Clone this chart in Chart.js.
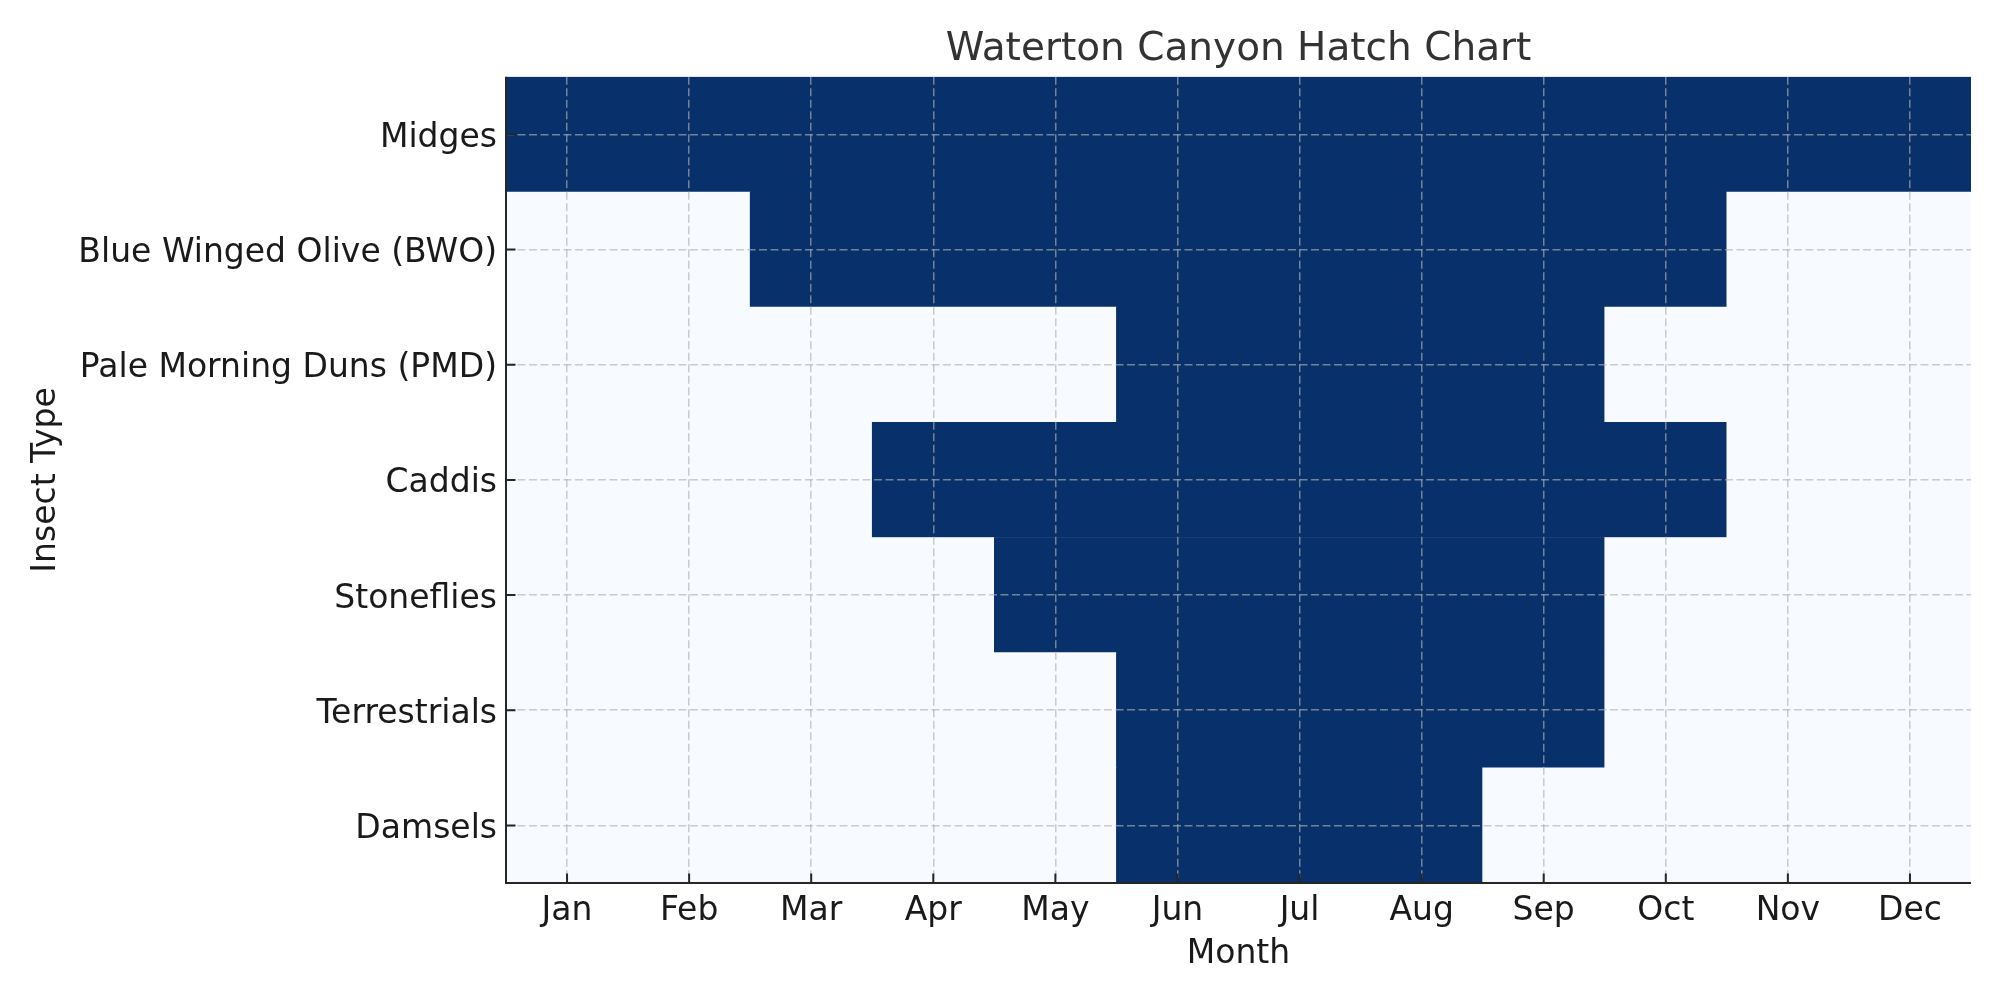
<!DOCTYPE html>
<html>
<head>
<meta charset="utf-8">
<script src="https://cdn.jsdelivr.net/npm/chart.js@4/dist/chart.umd.min.js"></script>
<style>
  html, body { margin: 0; padding: 0; background: #ffffff; }
  #wrap { width: 2000px; height: 1000px; }
</style>
</head>
<body>
<div id="wrap"><canvas id="c" width="2000" height="1000"></canvas></div>
<script>
const months = ['Jan','Feb','Mar','Apr','May','Jun','Jul','Aug','Sep','Oct','Nov','Dec'];
const insects = ['Midges','Blue Winged Olive (BWO)','Pale Morning Duns (PMD)','Caddis','Stoneflies','Terrestrials','Damsels'];
const midges       = [1,1,1,1,1,1,1,1,1,1,1,1];
const bwo          = [0,0,1,1,1,1,1,1,1,1,0,0];
const pmd          = [0,0,0,0,0,1,1,1,1,0,0,0];
const caddis       = [0,0,0,1,1,1,1,1,1,1,0,0];
const stoneflies   = [0,0,0,0,1,1,1,1,1,0,0,0];
const terrestrials = [0,0,0,0,0,1,1,1,1,0,0,0];
const damsels      = [0,0,0,0,0,1,1,1,0,0,0,0];
const hatchRows = [midges, bwo, pmd, caddis, stoneflies, terrestrials, damsels];

const DARK = '#08306b', LIGHT = '#f7fbff';
const FONT = 'DejaVu Sans';

// Build runs of equal values per row (cells rendered as floating bars)
const cells = [];
hatchRows.forEach((row, r) => {
  let s = 0;
  for (let m = 1; m <= row.length; m++) {
    if (m === row.length || row[m] !== row[s]) {
      cells.push({ x: [s - 0.5, m - 1 + 0.5], y: insects[r], v: row[s] });
      s = m;
    }
  }
});

const spinesAndTicks = {
  id: 'spinesAndTicks',
  afterDraw(chart) {
    const { ctx, chartArea } = chart;
    const xs = chart.scales.x, ys = chart.scales.y;
    ctx.save();
    ctx.strokeStyle = '#262626';
    ctx.lineWidth = 2;
    ctx.setLineDash([]);
    ctx.beginPath();
    xs.ticks.forEach((t, i) => {
      const px = xs.getPixelForTick(i);
      ctx.moveTo(px, chartArea.bottom);
      ctx.lineTo(px, chartArea.bottom - 9.5);
    });
    ys.ticks.forEach((t, i) => {
      const py = ys.getPixelForTick(i);
      ctx.moveTo(chartArea.left, py);
      ctx.lineTo(chartArea.left + 9.5, py);
    });
    ctx.stroke();
    ctx.beginPath();
    ctx.moveTo(chartArea.left, chartArea.top);
    ctx.lineTo(chartArea.left, chartArea.bottom);
    ctx.lineTo(chartArea.right, chartArea.bottom);
    ctx.stroke();
    ctx.restore();
  }
};

new Chart(document.getElementById('c'), {
  type: 'bar',
  data: {
    labels: insects,
    datasets: [{
      data: cells,
      backgroundColor: ctx => (ctx.raw && ctx.raw.v ? DARK : LIGHT),
      borderWidth: 0,
      barPercentage: 1,
      categoryPercentage: 1
    }]
  },
  options: {
    indexAxis: 'y',
    responsive: false,
    devicePixelRatio: 1,
    animation: false,
    layout: { padding: { left: 0, right: 29, top: 0, bottom: 0 } },
    plugins: {
      legend: { display: false },
      tooltip: { enabled: false },
      title: {
        display: true,
        fullSize: false,
        text: 'Waterton Canyon Hatch Chart',
        color: '#333333',
        font: { family: FONT, size: 39, weight: 'normal' },
        padding: { top: 26, bottom: 4 }
      }
    },
    scales: {
      x: {
        type: 'linear',
        min: -0.5,
        max: 11.5,
        afterBuildTicks: s => { s.ticks = months.map((m, i) => ({ value: i })); },
        afterFit: s => { s.height = 117; },
        ticks: {
          autoSkip: false,
          maxRotation: 0,
          color: '#1a1a1a',
          font: { family: FONT, size: 33 },
          padding: 9,
          callback: v => months[v]
        },
        grid: {
          color: 'rgba(176,176,176,0.65)',
          lineWidth: 1.5,
          drawTicks: false,
          z: 1
        },
        border: { display: false, dash: [8, 3.5] },
        title: {
          display: true,
          text: 'Month',
          color: '#1a1a1a',
          font: { family: FONT, size: 33 },
          padding: { top: 0, bottom: 26 }
        }
      },
      y: {
        type: 'category',
        labels: insects,
        offset: true,
        afterFit: s => { s.width = 506; },
        ticks: {
          autoSkip: false,
          color: '#1a1a1a',
          font: { family: FONT, size: 33 },
          padding: 9,
          labelOffset: 4
        },
        grid: {
          offset: false,
          color: 'rgba(176,176,176,0.65)',
          lineWidth: 1.5,
          drawTicks: false,
          z: 1
        },
        border: { display: false, dash: [8, 3.5] },
        title: {
          display: true,
          text: 'Insect Type',
          color: '#1a1a1a',
          font: { family: FONT, size: 33 },
          padding: { top: 27, bottom: 0 }
        }
      }
    }
  },
  plugins: [spinesAndTicks]
});
</script>
</body>
</html>
